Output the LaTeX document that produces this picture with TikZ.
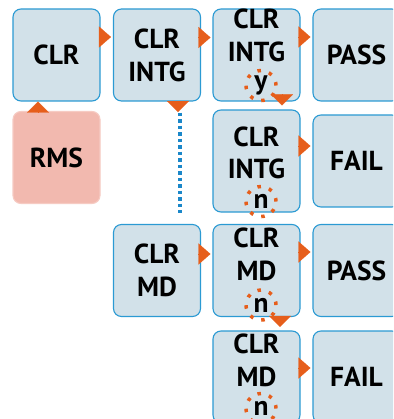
\documentclass[tikz,border=0pt]{standalone}
\usepackage{fontspec}
\setmainfont{PT Sans}
\usetikzlibrary{positioning, arrows.meta, calc}
\definecolor{boxfill}{HTML}{D2E1E9}
\definecolor{boxline}{HTML}{2B9AD3}
\definecolor{rmsfill}{HTML}{F2B9AF}
\definecolor{rmsline}{HTML}{F6CBC3}
\definecolor{tri}{HTML}{E65E1B}
\definecolor{dots}{HTML}{1A87C9}

\begin{document}
\begin{tikzpicture}[
    x=1pt, y=-1pt,
    font=\fontsize{27.5}{33}\selectfont\bfseries,
    box/.style={draw=boxline, fill=boxfill, rounded corners=8pt, align=center,
        minimum width=87pt, minimum height=92pt, inner sep=0pt, line width=1.1pt},
    rms/.style={box, draw=rmsline, fill=rmsfill},
    ring/.style={circle, draw=tri, line width=3.5pt, dash pattern=on 3.5pt off 8.3pt,
        minimum size=30pt, inner sep=0pt},
    hop/.style={draw=tri, line width=0.1pt, shorten >=2pt, -{Triangle[length=12pt, width=21pt]}},
    drop/.style={draw=tri, line width=0.1pt, -{Triangle[length=11pt, width=22pt]}},
    link/.style={draw=dots, line width=3.5pt, dash pattern=on 3.5pt off 3pt}
]
    \useasboundingbox (0,0) rectangle (393,419);
    \clip (0,0) rectangle (393,419);

    % first row: clear, integrity check, pass
    \node[box] (clr) at (56.5,55) {CLR};
    \node[rms] (rms) at (56.5,157.5) {RMS};
    \node[box] (intg) at (157,55) {CLR\\INTG};
    \node[box] (intgY) at (256.5,55) {CLR\\INTG\\\phantom{y}};
    \node[box] (pass1) at (356.5,55) {PASS};
    \node[box] (intgN) at (256.5,161) {\rule{0pt}{36pt}CLR\\INTG\\\phantom{n}};
    \node[box] (fail1) at (356.5,161) {FAIL};

    % lower rows: media check
    \node[box] (md) at (157,270.5) {CLR\\MD};
    \node[box] (mdN) at (256.5,270.5) {CLR\\MD\\\phantom{n}};
    \node[box] (pass2) at (356.5,270.5) {PASS};
    \node[box] (mdNN) at (256.5,377) {CLR\\MD\\\phantom{n}};
    \node[box] (fail2) at (356.5,377) {FAIL};

    % dotted rings round the answers
    \node[ring] (ansY) at ([shift={(4.5,-16)}]intgY.south) {y};
    \node[ring] (ansN) at ([shift={(4.5,-11)}]intgN.south) {n};
    \node[ring] (ansMdA) at ([shift={(4.5,-12)}]mdN.south) {n};
    \node[ring] (ansMdB) at ([shift={(4.5,-15)}]mdNN.south) {n};

    \draw[hop] ([yshift=18pt]clr.east) -- ([yshift=18pt]intg.west);
    \draw[hop] ([yshift=17.5pt]intg.east) -- ([yshift=17.5pt]intgY.west);
    \draw[hop] ([yshift=18pt]intgY.east) -- ([yshift=18pt]pass1.west);
    \draw[hop] ([yshift=15pt]intgN.east) -- ([yshift=15pt]fail1.west);
    \draw[hop] ([yshift=16.5pt]md.east) -- ([yshift=16.5pt]mdN.west);
    \draw[hop] ([yshift=18.5pt]mdN.east) -- ([yshift=18.5pt]pass2.west);
    \draw[hop] ([yshift=9pt]mdNN.east) -- ([yshift=9pt]fail2.west);

    \draw[drop] ([xshift=-18.5pt]rms.north) -- ([xshift=-18.5pt]clr.south);
    \draw[drop, shorten >=4pt] ([xshift=25.5pt]intgY.south) -- ([xshift=25.5pt]intgN.north);
    \draw[drop, shorten >=3.5pt] ([xshift=23.5pt]mdN.south) -- ([xshift=23.5pt]mdNN.north);

    \coordinate (tap) at ([shift={(21,10.5)}]intg.south);
    \draw[drop] ([xshift=21pt]intg.south) -- (tap);
    \draw[link, shorten <=11pt, shorten >=11pt] ([xshift=23pt]intg.south) -- ([xshift=23pt]md.north);
\end{tikzpicture}
\end{document}
